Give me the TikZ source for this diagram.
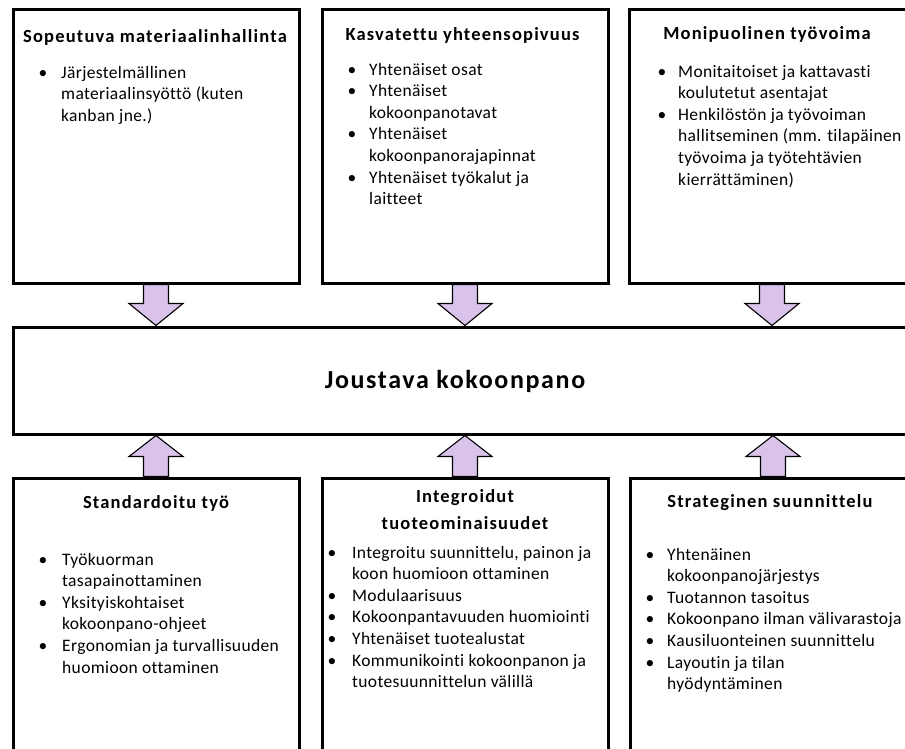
\documentclass[tikz,border=0pt]{standalone}
\usepackage{fontspec}
\setmainfont{Carlito}[Ligatures=NoCommon]
\usetikzlibrary{calc}
\pgfdeclarelayer{back}
\pgfsetlayers{back,main}
\definecolor{arrowfill}{RGB}{217,195,235}
\renewcommand{\arraystretch}{1}
\tikzset{
  box/.style={draw=black, line width=3pt, fill=white, inner sep=0pt,
    minimum width=286pt},
  boxtitle/.style={font=\fontsize{18.5}{27}\selectfont\bfseries\addfontfeature{LetterSpace=6.4},
    inner sep=0pt, anchor=base},
  bodylist/.style={font=\fontsize{17.5}{21.6}\selectfont\addfontfeature{LetterSpace=2},
    inner sep=0pt, anchor=base west},
  maintitle/.style={font=\fontsize{26}{30}\selectfont\bfseries\addfontfeature{LetterSpace=6.3},
    inner sep=0pt, anchor=base},
  barrow/.style={draw=black, line width=1.1pt, fill=arrowfill, line join=miter},
}
% block arrow from the bottom of box #1 down to the top of box #2
\newcommand{\flowdown}[2]{%
  \draw[barrow] let \p1=(#1), \p2=(#1 |- #2) in
    (\x1-12.5pt,\y1) -- (\x1-12.5pt,\y2+22pt) -- (\x1-27pt,\y2+22pt) -- (\x1,\y2)
    -- (\x1+27pt,\y2+22pt) -- (\x1+12.5pt,\y2+22pt) -- (\x1+12.5pt,\y1) -- cycle;}
% block arrow from the top of box #1 up to the bottom of box #2
\newcommand{\flowup}[2]{%
  \draw[barrow] let \p1=(#1), \p2=(#1 |- #2) in
    (\x1-12.5pt,\y1) -- (\x1-12.5pt,\y2-21pt) -- (\x1-27pt,\y2-21pt) -- (\x1,\y2)
    -- (\x1+27pt,\y2-21pt) -- (\x1+12.5pt,\y2-21pt) -- (\x1+12.5pt,\y1) -- cycle;}
\begin{document}
\begin{tikzpicture}[x=1pt, y=-1pt]
  \useasboundingbox (0,0) rectangle (905,748);
  \clip (0,0) rectangle (905,748);

  % boxes
  \node[box, minimum height=274pt] (tl) at (156,146) {};
  \node[box, minimum height=274pt] (tm) at (465,146) {};
  \node[box, minimum height=274pt] (tr) at (772,146) {};
  \node[box, minimum width=920pt, minimum height=107pt] (mid) at (473,380.5) {};
  \node[box, minimum height=282pt] (bl) at (156,619) {};
  \node[box, minimum height=282pt] (bm) at (465,619) {};
  \node[box, minimum height=282pt] (br) at (773,619) {};

  % page background and the arrows into the central box
  \begin{pgfonlayer}{back}
    \fill[white] (0,0) rectangle (905,748);
    \flowdown{tl.south}{mid.north}
    \flowdown{tm.south}{mid.north}
    \flowdown{tr.south}{mid.north}
    \flowup{bl.north}{mid.south}
    \flowup{bm.north}{mid.south}
    \flowup{br.north}{mid.south}
  \end{pgfonlayer}

  % central label
  \node[maintitle] (midlabel) at (455,388) {Joustava kokoonpano};

  % top row
  \node[boxtitle] (tlt) at (155,42) {Sopeutuva materiaalinhallinta};
  \node[bodylist] (tll) at (38.5,78) {\begin{tabular}[t]{@{}p{22.5pt}@{}l@{}}
    \textbullet & Järjestelmällinen\\
                & materiaalinsyöttö (kuten\\
                & kanban jne.)
  \end{tabular}};

  \node[boxtitle] (tmt) at (462.5,40) {Kasvatettu yhteensopivuus};
  \node[bodylist] (tml) at (347.5,75) {\begin{tabular}[t]{@{}p{21.5pt}@{}l@{}}
    \textbullet & Yhtenäiset osat\\
    \textbullet & Yhtenäiset\\
                & kokoonpanotavat\\
    \textbullet & Yhtenäiset\\
                & kokoonpanorajapinnat\\
    \textbullet & Yhtenäiset työkalut ja\\
                & laitteet
  \end{tabular}};

  \node[boxtitle] (trt) at (767,39) {Monipuolinen työvoima};
  \node[bodylist] (trl) at (657.5,77) {\begin{tabular}[t]{@{}p{20.5pt}@{}l@{}}
    \textbullet & Monitaitoiset ja kattavasti\\
                & koulutetut asentajat\\
    \textbullet & Henkilöstön ja työvoiman\\
                & hallitseminen (mm. tilapäinen\\
                & työvoima ja työtehtävien\\
                & kierrättäminen)
  \end{tabular}};

  % bottom row
  \node[boxtitle] (blt) at (156,508) {Standardoitu työ};
  \node[bodylist] (bll) at (38.5,565) {\begin{tabular}[t]{@{}p{23.5pt}@{}l@{}}
    \textbullet & Työkuorman\\
                & tasapainottaminen\\
    \textbullet & Yksityiskohtaiset\\
                & kokoonpano-ohjeet\\
    \textbullet & Ergonomian ja turvallisuuden\\
                & huomioon ottaminen
  \end{tabular}};

  \node[boxtitle] (bmt) at (465,502) {\begin{tabular}[t]{@{}c@{}}
    Integroidut\\ tuoteominaisuudet
  \end{tabular}};
  \node[bodylist] (bml) at (327.5,558) {\begin{tabular}[t]{@{}p{24.5pt}@{}l@{}}
    \textbullet & Integroitu suunnittelu, painon ja\\
                & koon huomioon ottaminen\\
    \textbullet & Modulaarisuus\\
    \textbullet & Kokoonpantavuuden huomiointi\\
    \textbullet & Yhtenäiset tuotealustat\\
    \textbullet & Kommunikointi kokoonpanon ja\\
                & tuotesuunnittelun välillä
  \end{tabular}};

  \node[boxtitle] (brt) at (770,507) {Strateginen suunnittelu};
  \node[bodylist] (brl) at (645.5,560) {\begin{tabular}[t]{@{}p{21.5pt}@{}l@{}}
    \textbullet & Yhtenäinen\\
                & kokoonpanojärjestys\\
    \textbullet & Tuotannon tasoitus\\
    \textbullet & Kokoonpano ilman välivarastoja\\
    \textbullet & Kausiluonteinen suunnittelu\\
    \textbullet & Layoutin ja tilan\\
                & hyödyntäminen
  \end{tabular}};
\end{tikzpicture}
\end{document}
